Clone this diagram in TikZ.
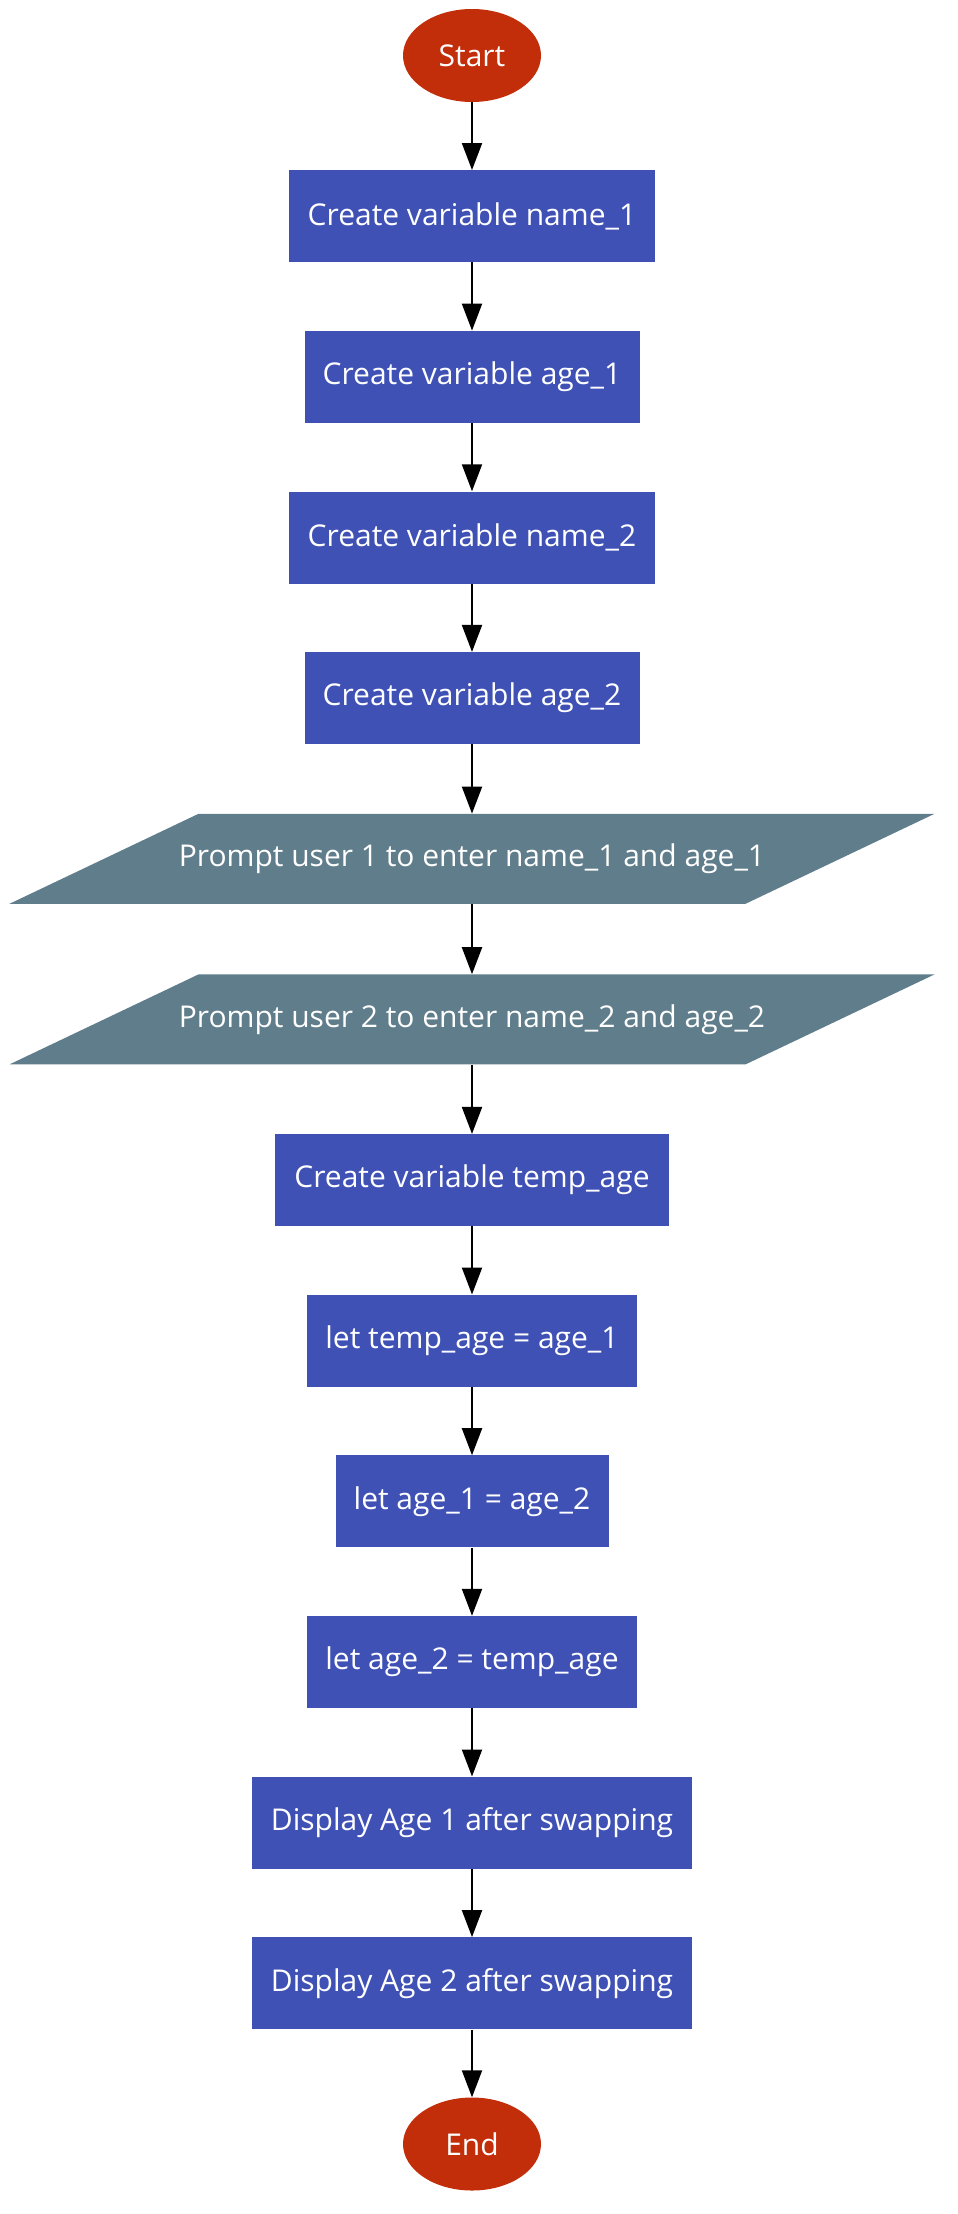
\documentclass[tikz,border=0pt]{standalone}
\usepackage{fontspec}
\setmainfont{Open Sans}
\usetikzlibrary{arrows.meta,shapes.geometric,backgrounds,calc}
\definecolor{termred}{HTML}{C22D0A}
\definecolor{procblue}{HTML}{3F51B5}
\definecolor{iogray}{HTML}{607D8B}
\begin{document}
\begin{tikzpicture}[x=1pt,y=-1pt,
  txt/.style={text=white,font=\fontsize{30}{35}\selectfont,inner sep=0pt},
  term/.style={txt,ellipse,fill=termred,minimum width=138pt,minimum height=93pt},
  proc/.style={txt,rectangle,fill=procblue,minimum height=92pt},
  io/.style={txt,rectangle,minimum width=736pt,minimum height=90pt},
  arr/.style={line width=2pt,-{Triangle[length=27pt,width=20pt]}}]
\useasboundingbox (0,0) rectangle (958,2214);
\node[term] (start) at (472,55.5) {Start};
\node[proc,minimum width=366pt] (n1) at (472,216.2) {Create variable name\_1};
\node[proc,minimum width=335pt] (a1) at (472,376.8) {Create variable age\_1};
\node[proc,minimum width=366pt] (n2) at (472,537.5) {Create variable name\_2};
\node[proc,minimum width=335pt] (a2) at (472,698.1) {Create variable age\_2};
\node[io] (p1) at (472,858.8) {Prompt user 1 to enter name\_1 and age\_1};
\node[io] (p2) at (472,1019.4) {Prompt user 2 to enter name\_2 and age\_2};
\node[proc,minimum width=394pt] (t) at (472,1180.1) {Create variable temp\_age};
\node[proc,minimum width=330pt] (l1) at (472,1340.7) {let temp\_age = age\_1};
\node[proc,minimum width=273pt] (l2) at (472,1501.4) {let age\_1 = age\_2};
\node[proc,minimum width=330pt] (l3) at (472,1662) {let age\_2 = temp\_age};
\node[proc,minimum width=440pt] (d1) at (472,1822.7) {Display Age 1 after swapping};
\node[proc,minimum width=440pt] (d2) at (472,1983.3) {Display Age 2 after swapping};
\node[term] (end) at (472,2144) {End};
\begin{scope}[on background layer]
\foreach \p in {p1,p2}{
  \fill[iogray] ($(\p.center)+(-462.5,45)$) -- ($(\p.center)+(273.5,45)$) -- ($(\p.center)+(462.5,-45)$) -- ($(\p.center)+(-273.5,-45)$) -- cycle;
}
\end{scope}
\draw[arr] (start) -- (n1);
\draw[arr] (n1) -- (a1);
\draw[arr] (a1) -- (n2);
\draw[arr] (n2) -- (a2);
\draw[arr] (a2) -- (p1);
\draw[arr] (p1) -- (p2);
\draw[arr] (p2) -- (t);
\draw[arr] (t) -- (l1);
\draw[arr] (l1) -- (l2);
\draw[arr] (l2) -- (l3);
\draw[arr] (l3) -- (d1);
\draw[arr] (d1) -- (d2);
\draw[arr] (d2) -- (end);
\end{tikzpicture}
\end{document}
